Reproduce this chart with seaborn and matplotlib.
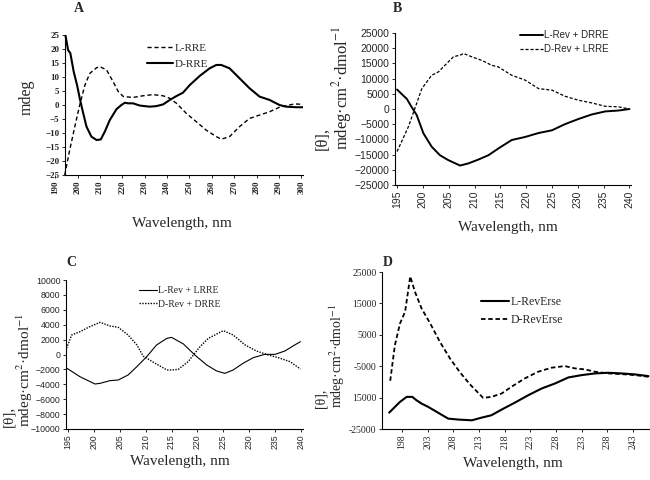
import matplotlib
matplotlib.use('Agg')
import matplotlib.pyplot as plt
import seaborn as sns

# ── Data ─────────────────────────────────────────────────────────────────────
# Panel A: RRE alone
A_L_WL = [194.3, 196.5, 198.8, 201.0, 203.3, 205.5, 208.5, 210.0, 213.0, 215.9, 218.2, 220.5,
          224.8, 229.3, 233.7, 238.2, 241.2, 244.2, 248.6, 253.1, 257.5, 262.0, 264.2, 267.9,
          272.4, 276.8, 281.3, 285.8, 290.2, 294.7, 296.9, 300.7]
A_L_RRE = [-25, -16.1, -7.7, 0.0, 7.1, 11.3, 13.3, 13.7, 12.5, 8.3, 4.8, 3.0,
           2.7, 3.3, 3.7, 3.3, 2.4, 0.6, -3.0, -6.0, -9.0, -11.3, -12.2, -11.3,
           -7.7, -4.8, -3.6, -2.4, -0.8, 0.0, 0.4, 0.2]
A_D_WL = [194.6, 195.8, 196.8, 198.3, 199.8, 201.0, 202.2, 204.0, 206.2, 208.5, 210.4, 212.2,
          214.4, 217.4, 219.6, 221.1, 222.6, 224.8, 227.8, 232.2, 235.2, 238.2, 241.2, 244.2,
          247.1, 250.1, 254.6, 259.0, 262.0, 264.2, 267.9, 272.4, 276.8, 281.3, 285.8, 290.2,
          293.2, 297.7, 300.7]
A_D_RRE = [25, 19.6, 18.5, 11.9, 7.1, 2.4, -1.8, -7.7, -11.3, -12.5, -12.3, -9.5,
           -5.4, -1.5, 0.0, 0.8, 0.6, 0.6, -0.2, -0.6, -0.4, 0.2, 1.8, 3.2,
           4.4, 7.1, 10.4, 13.1, 14.3, 14.3, 13.1, 9.5, 6.0, 3.0, 1.8, 0.0,
           -0.6, -0.8, -0.8]
A_XTICKS = list(range(190, 301, 10))
A_YTICKS = list(range(-25, 26, 5))

# Panel B: heterochiral complexes
B_S_WL = [195.0, 196.9, 197.8, 198.8, 200.1, 201.7, 203.3, 204.9, 207.2, 208.8, 210.8, 212.7,
          214.6, 217.2, 219.8, 222.4, 225.0, 227.5, 230.1, 232.7, 235.3, 237.9, 240.0]
B_L_REV_DRRE = [6400, 3300, 700, -2000, -8000, -12400, -15200, -16800, -18600, -17900, -16600, -15200,
                -13000, -10200, -9200, -7900, -7000, -5000, -3300, -1800, -800, -500, 0]
B_D_WL = [195.0, 197.2, 199.8, 201.7, 203.0, 204.6, 205.9, 207.5, 207.8, 209.5, 211.4, 213.3,
          214.6, 217.2, 219.8, 222.4, 225.0, 227.5, 230.1, 232.7, 235.3, 237.9, 240.0]
B_D_REV_LRRE = [-14000, -5800, 6700, 11100, 12200, 14950, 17150, 17900, 18300, 17150, 16000, 14400,
                13850, 11100, 9500, 6700, 6200, 4200, 2900, 2000, 900, 700, 0]
B_XTICKS = list(range(195, 241, 5))
B_YTICKS = list(range(-25000, 25001, 5000))

# Panel C: homochiral complexes
C_S_WL = [194.6, 197.3, 200.2, 201.2, 203.1, 204.7, 206.6, 208.3, 210.2, 212.1, 214.1, 215.0,
          217.3, 219.5, 221.8, 223.7, 225.3, 226.9, 228.8, 230.8, 233.0, 235.0, 236.9, 238.8, 239.9]
C_L_REV_LRRE = [-1770, -2980, -3960, -3870, -3510, -3420, -2750, -1630, -290, 1280, 2170, 2300,
                1410, -70, -1410, -2210, -2530, -2080, -1190, -420, 20, 20, 470, 1280, 1720]
C_D_WL = [194.7, 195.7, 197.3, 199.2, 201.2, 203.1, 204.7, 206.6, 208.3, 209.5, 211.5, 214.1,
          215.0, 216.3, 218.2, 220.5, 222.1, 225.0, 226.9, 229.2, 231.4, 233.7, 235.6, 237.9, 239.9]
C_D_REV_DRRE = [830, 2620, 3060, 3740, 4320, 3830, 3650, 2620, 1280, -200, -1050, -2080,
                -2080, -2000, -960, 1050, 2170, 3200, 2620, 1280, 470, -70, -420, -960, -1950]
C_XTICKS = list(range(195, 241, 5))
C_YTICKS = list(range(-10000, 10001, 2000))

# Panel D: RevErse peptides
D_D_WL = [195.7, 196.6, 197.6, 198.6, 199.6, 200.5, 201.8, 203.5, 205.4, 207.4, 209.3, 211.2,
          213.8, 215.4, 217.4, 219.3, 221.9, 224.5, 227.1, 229.7, 231.7, 233.6, 235.6, 238.2,
          240.8, 243.4, 246.0]
D_D_REVERSE = [-9660, 1610, 8580, 12340, 23600, 18780, 13410, 8580, 2680, -2680, -6970, -10730,
               -15090, -14770, -13700, -11570, -8900, -6770, -5490, -4960, -5700, -6020, -6770, -7300,
               -7520, -7840, -8370]
D_S_WL = [195.5, 197.6, 198.9, 200.0, 200.8, 201.8, 203.1, 205.1, 207.0, 209.0, 211.6, 213.5,
          215.4, 217.4, 220.0, 222.6, 225.2, 227.8, 230.4, 233.0, 235.6, 238.2, 240.8, 243.4, 246.0]
D_L_REVERSE = [-19780, -16370, -14770, -14770, -15830, -16900, -17960, -19880, -21700, -22000, -22230, -21380,
               -20630, -18820, -16580, -14230, -12100, -10500, -8580, -7840, -7300, -7090, -7300, -7620, -8160]
D_XTICKS = list(range(198, 244, 5))
D_YTICKS = [25000, 15000, 5000, -5000, -15000, -25000]
D_YTICKLABELS = ["25000", "15000", "5000", "-5000", "15000", "-25000"]

# ── Style ────────────────────────────────────────────────────────────────────
sns.set_style("white")
SERIF = ["Liberation Serif", "DejaVu Serif"]
SANS = ["Liberation Sans", "DejaVu Sans"]
plt.rcParams.update({
    "font.family": SERIF,
    "mathtext.fontset": "stix",
    "axes.linewidth": 0.8,
    "axes.edgecolor": "black",
})

W, H = 650, 480
fig = plt.figure(figsize=(6.5, 4.8), dpi=100)


def px_axes(l, t, r, b):
    return fig.add_axes([l / W, 1 - b / H, (r - l) / W, (b - t) / H])


def fig_text(x, y, s, **kw):
    fig.text(x / W, 1 - y / H, s, **kw)


def style_axes(ax, family, size, weight="normal"):
    for side in ("top", "right"):
        ax.spines[side].set_visible(False)
    ax.tick_params(axis="both", direction="out", length=2.5, width=0.7, pad=1.5,
                   labelsize=size, left=True, bottom=True)
    ax.tick_params(axis="x", labelrotation=90)
    for lab in ax.get_xticklabels() + ax.get_yticklabels():
        lab.set_family(family)
        lab.set_weight(weight)
    ax.set_xlabel("")
    ax.set_ylabel("")


THETA = "[θ],\nmdeg·cm$^{2}$·dmol$^{-1}$"

# ── A ────────────────────────────────────────────────────────────────────────
ax = px_axes(54, 35, 303, 175)
sns.lineplot(x=A_L_WL, y=A_L_RRE, ax=ax, color="black", lw=1.0,
             linestyle=(0, (3, 2)), label="L-RRE", sort=False)
sns.lineplot(x=A_D_WL, y=A_D_RRE, ax=ax, color="black", lw=1.5, label="D-RRE", sort=False)
ax.set_xlim(189.5, 300.7)
ax.set_ylim(-25, 25)
ax.spines["left"].set_position(("data", 194.4))
ax.spines["bottom"].set_bounds(194.4, 300.7)
ax.set_xticks(A_XTICKS)
ax.set_xticks(list(range(196, 300, 2)), minor=True)
ax.set_yticks(A_YTICKS)
ax.tick_params(axis="x", which="minor", length=1.5, width=0.6)
style_axes(ax, SERIF, 6.5, "bold")
ax.legend(loc="upper left", bbox_to_anchor=(147 / W, 1 - 43 / H), bbox_transform=fig.transFigure,
          frameon=False, fontsize=8, handlelength=2.3, handletextpad=0.2, labelspacing=0.6,
          borderpad=0, borderaxespad=0)
fig_text(79, 9, "A", fontsize=10, fontweight="bold", ha="center", va="center")
fig_text(27, 97, "mdeg", fontsize=11.5, rotation=90, ha="center", va="center")
fig_text(182, 223, "Wavelength, nm", fontsize=11, ha="center", va="center")

# ── B ────────────────────────────────────────────────────────────────────────
ax = px_axes(395, 33, 631, 185)
sns.lineplot(x=B_S_WL, y=B_L_REV_DRRE, ax=ax, color="black", lw=1.4, label="L-Rev + DRRE", sort=False)
sns.lineplot(x=B_D_WL, y=B_D_REV_LRRE, ax=ax, color="black", lw=0.9,
             linestyle=(0, (2.5, 1.5)), label="D-Rev + LRRE", sort=False)
ax.set_xlim(194.6, 240.3)
ax.set_ylim(-25000, 25000)
ax.set_xticks(B_XTICKS)
ax.set_yticks(B_YTICKS)
style_axes(ax, SANS, 7.5)
ax.legend(loc="upper left", bbox_to_anchor=(520 / W, 1 - 30 / H), bbox_transform=fig.transFigure,
          frameon=False, prop={"family": SANS, "size": 7}, handlelength=2.4,
          handletextpad=0.1, labelspacing=0.45, borderpad=0, borderaxespad=0)
fig_text(397, 8, "B", fontsize=10, fontweight="bold", ha="center", va="center")
fig_text(334, 150, THETA, fontsize=12, rotation=90, ha="center", va="bottom",
         multialignment="left", linespacing=1.0)
fig_text(508, 228, "Wavelength, nm", fontsize=11, ha="center", va="center")

# ── C ────────────────────────────────────────────────────────────────────────
ax = px_axes(66, 280, 303, 429)
sns.lineplot(x=C_S_WL, y=C_L_REV_LRRE, ax=ax, color="black", lw=0.8, label="L-Rev + LRRE", sort=False)
sns.lineplot(x=C_D_WL, y=C_D_REV_DRRE, ax=ax, color="black", lw=1.0,
             linestyle=(0, (1, 1)), label="D-Rev + DRRE", sort=False)
ax.set_xlim(194.6, 240.4)
ax.set_ylim(-10000, 10000)
ax.set_xticks(C_XTICKS)
ax.set_yticks(C_YTICKS)
style_axes(ax, SANS, 6.3)
ax.legend(loc="upper left", bbox_to_anchor=(139 / W, 1 - 286 / H), bbox_transform=fig.transFigure,
          frameon=False, fontsize=7, handlelength=1.9, handletextpad=0.1, labelspacing=0.5,
          borderpad=0, borderaxespad=0)
fig_text(71, 262, "C", fontsize=10, fontweight="bold", ha="center", va="center")
fig_text(19, 427, THETA, fontsize=11, rotation=90, ha="center", va="bottom",
         multialignment="left", linespacing=0.95)
fig_text(180, 462, "Wavelength, nm", fontsize=11, ha="center", va="center")

# ── D ────────────────────────────────────────────────────────────────────────
ax = px_axes(382, 272, 650, 429)
sns.lineplot(x=D_S_WL, y=D_L_REVERSE, ax=ax, color="black", lw=1.5, label="L-RevErse", sort=False)
sns.lineplot(x=D_D_WL, y=D_D_REVERSE, ax=ax, color="black", lw=1.3,
             linestyle=(0, (2.5, 1.5)), label="D-RevErse", sort=False)
ax.set_xlim(194.1, 246.3)
ax.set_ylim(-25000, 25000)
ax.set_xticks(D_XTICKS)
ax.set_yticks(D_YTICKS)
ax.set_yticklabels(D_YTICKLABELS)
style_axes(ax, SERIF, 7)
ax.legend(loc="upper left", bbox_to_anchor=(481 / W, 1 - 296 / H), bbox_transform=fig.transFigure,
          frameon=False, fontsize=8.5, handlelength=2.4, handletextpad=0.1, labelspacing=0.55,
          borderpad=0, borderaxespad=0)
fig_text(388, 262, "D", fontsize=10, fontweight="bold", ha="center", va="center")
fig_text(331, 408, THETA, fontsize=10, rotation=90, ha="center", va="bottom",
         multialignment="left", linespacing=1.0)
fig_text(513, 463, "Wavelength, nm", fontsize=11, ha="center", va="center")

plt.savefig("out.png", dpi=100, facecolor="white")
